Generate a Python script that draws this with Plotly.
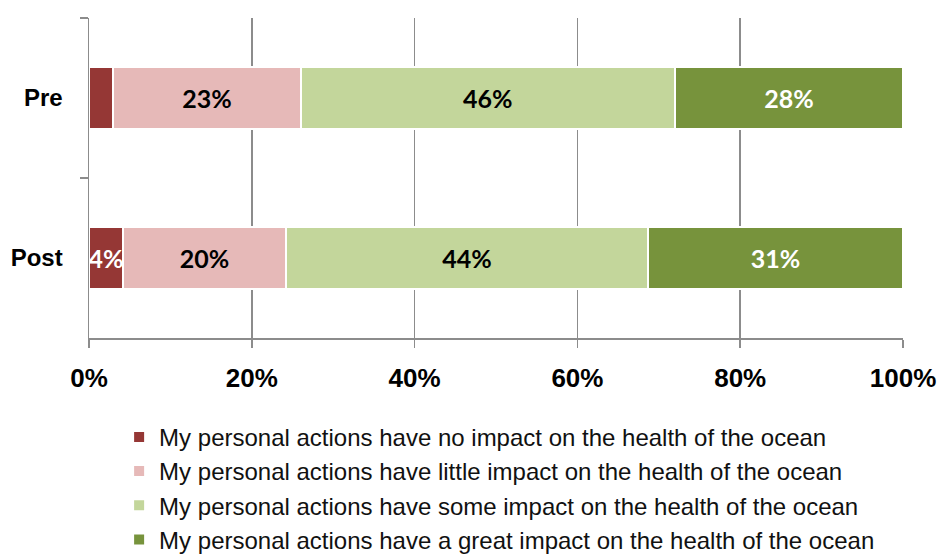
import plotly.graph_objects as go

categories = ["Pre", "Post"]
series_names = [
    "My personal actions have no impact on the health of the ocean",
    "My personal actions have little impact on the health of the ocean",
    "My personal actions have some impact on the health of the ocean",
    "My personal actions have a great impact on the health of the ocean",
]
no_impact = [3.0, 4.2]
little_impact = [23.0, 20.0]
some_impact = [46.0, 44.5]
great_impact = [28.0, 31.3]
no_labels = ["", "4%"]
little_labels = ["23%", "20%"]
some_labels = ["46%", "44%"]
great_labels = ["28%", "31%"]
x_ticks = [0, 20, 40, 60, 80, 100]
x_tick_labels = ["0%", "20%", "40%", "60%", "80%", "100%"]

colors = ["#953735", "#E6B9B8", "#C3D69B", "#77933C"]
label_colors = ["white", "black", "black", "white"]
values = [no_impact, little_impact, some_impact, great_impact]
labels = [no_labels, little_labels, some_labels, great_labels]

narrow = "Liberation Sans Narrow, Arial Narrow, Liberation Sans, Arial, sans-serif"

fig = go.Figure()
for name, vals, lab, col, lcol in zip(series_names, values, labels, colors, label_colors):
    fig.add_trace(go.Bar(
        y=categories, x=vals, name=name, orientation="h",
        marker=dict(color=col, line=dict(color="white", width=2)),
        text=lab, textposition="inside", insidetextanchor="middle", textangle=0,
        textfont=dict(family="Lato, Carlito, Open Sans, sans-serif", size=25, color=lcol),
        texttemplate="<b>%{text}</b>", hoverinfo="skip", constraintext="none",
    ))

fig.update_layout(
    barmode="stack",
    bargap=0.61,
    width=941, height=560,
    margin=dict(l=89, r=38, t=18, b=222, autoexpand=False),
    plot_bgcolor="white", paper_bgcolor="white",
    legend=dict(
        x=0.037, y=-0.24, xanchor="left", yanchor="top",
        orientation="v", traceorder="normal",
        font=dict(family=narrow, size=24, color="#111111"),
        itemwidth=30, tracegroupgap=0,
    ),
    xaxis=dict(
        range=[0, 100], tickvals=x_ticks, ticktext=x_tick_labels, tickangle=0,
        showgrid=True, gridcolor="#8C8C8C", gridwidth=1.5,
        showline=True, linecolor="#8C8C8C", linewidth=1.5,
        ticks="outside", ticklen=8, tickcolor="#8C8C8C", tickwidth=1.5,
        tickfont=dict(family=narrow, size=26, color="black", weight="bold"),
        ticklabelstandoff=8,
        zeroline=False, fixedrange=True,
    ),
    yaxis=dict(
        categoryorder="array", categoryarray=categories, autorange="reversed",
        showline=True, linecolor="#8C8C8C", linewidth=1.5,
        ticks="outside", ticklen=8, tickcolor="#8C8C8C", tickwidth=1.5,
        tickson="boundaries",
        tickfont=dict(family=narrow, size=24, color="black", weight="bold"),
        showgrid=False, ticklabelstandoff=20, fixedrange=True,
    ),
)

fig.write_html(
    "out.html",
    config={"displayModeBar": False, "staticPlot": True},
    post_script="document.body.style.margin='0';document.body.style.overflow='hidden';",
)
